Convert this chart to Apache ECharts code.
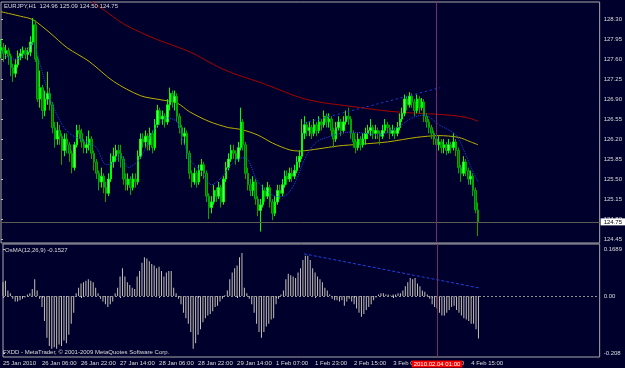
<!DOCTYPE html>
<html><head><meta charset="utf-8">
<script src="https://cdn.jsdelivr.net/npm/echarts@6/dist/echarts.min.js"></script>
<style>html,body{margin:0;padding:0;background:#00002c}#c{width:625px;height:368px}</style>
</head><body><div id="c"></div><script>
// ---- data ----
const symbolTitle = 'EURJPY,H1  124.96 125.09 124.50 124.75';
const oscTitle = 'OsMA(12,26,9) -0.1527';
const copyright = 'FXDD - MetaTrader, \u00a9 2001-2009 MetaQuotes Software Corp.';
const timeLabels = ['25 Jan 2010','26 Jan 06:00','26 Jan 22:00','27 Jan 14:00','28 Jan 06:00','28 Jan 22:00','29 Jan 14:00','1 Feb 07:00','1 Feb 23:00','2 Feb 15:00','3 Feb 07:00','3 Feb 23:00','4 Feb 15:00'];
const barsPerLabel = 16;
const cursorBar = 178;
const cursorLabel = '2010.02.04 01:00';
const bidPrice = 124.75;
const priceTicks = [128.30,127.95,127.60,127.25,126.90,126.55,126.20,125.85,125.50,125.15,124.80,124.45];
const oscTicks = [0.1689, 0, -0.208];
// [open, close, low, high] per H1 bar
const ohlc = [
[127.75,127.80,127.62,127.95],[127.80,127.70,127.55,127.88],[127.70,127.75,127.60,127.85],[127.75,127.65,127.50,127.80],
[127.65,127.45,127.30,127.70],[127.45,127.35,127.20,127.52],[127.35,127.50,127.28,127.60],[127.50,127.65,127.45,127.75],
[127.65,127.70,127.58,127.78],[127.70,127.75,127.62,127.82],[127.75,127.68,127.60,127.80],[127.68,127.72,127.58,127.80],
[127.72,127.90,127.65,128.00],[127.90,128.20,127.85,128.32],[128.20,127.60,127.55,128.28],[127.60,126.90,126.85,127.65],
[126.90,127.10,126.75,127.40],[127.10,126.70,126.55,127.15],[126.70,126.90,126.60,127.05],[126.90,127.00,126.80,127.38],
[127.00,126.80,126.70,127.10],[126.80,126.40,126.30,126.85],[126.40,126.20,126.05,126.50],[126.20,126.35,126.10,126.50],
[126.35,126.25,126.10,126.45],[126.25,126.00,125.75,126.30],[126.00,126.20,125.90,126.30],[126.20,126.10,125.95,126.30],
[126.10,125.95,125.80,126.15],[125.95,125.70,125.60,126.00],[125.70,126.10,125.65,126.15],[126.10,126.35,126.05,126.45],
[126.35,126.30,126.20,126.45],[126.30,126.15,126.05,126.38],[126.15,126.05,125.95,126.20],[126.05,126.10,125.95,126.25],
[126.10,126.20,126.00,126.35],[126.20,125.95,125.85,126.25],[125.95,125.80,125.65,126.00],[125.80,125.60,125.50,125.85],
[125.60,125.45,125.30,125.65],[125.45,125.55,125.35,125.70],[125.55,125.35,125.25,125.60],[125.35,125.25,125.10,125.45],
[125.25,125.50,125.20,125.60],[125.50,125.80,125.45,125.95],[125.80,125.90,125.70,126.05],[125.90,126.00,125.80,126.10],
[126.00,125.95,125.80,126.10],[125.95,125.85,125.70,126.10],[125.85,125.50,125.40,125.90],[125.50,125.40,125.30,125.60],
[125.40,125.50,125.30,125.60],[125.50,125.35,125.22,125.55],[125.35,125.50,125.30,125.60],[125.50,125.45,125.35,125.60],
[125.45,125.90,125.40,126.00],[125.90,126.20,125.85,126.30],[126.20,126.15,126.05,126.30],[126.15,126.25,126.05,126.35],
[126.25,126.10,126.00,126.30],[126.10,126.30,126.00,126.40],[126.30,126.05,125.95,126.35],[126.05,126.45,126.00,126.55],
[126.45,126.70,126.40,126.80],[126.70,126.55,126.45,126.75],[126.55,126.60,126.45,126.70],[126.60,126.50,126.40,126.65],
[126.50,126.80,126.45,126.90],[126.80,127.00,126.70,127.10],[127.00,126.85,126.75,127.05],[126.85,126.95,126.70,127.05],
[126.95,126.60,126.50,127.00],[126.60,126.40,126.30,126.65],[126.40,126.25,126.10,126.45],[126.25,126.30,126.10,126.40],
[126.30,125.95,125.85,126.35],[125.95,125.60,125.50,126.00],[125.60,125.45,125.35,125.65],[125.45,125.60,125.40,125.70],
[125.60,125.45,125.35,125.65],[125.45,125.65,125.40,125.75],[125.65,125.75,125.55,125.85],[125.75,125.60,125.50,125.80],
[125.60,125.20,125.10,125.65],[125.20,125.00,124.80,125.25],[125.00,125.10,124.90,125.20],[125.10,125.30,125.05,125.40],
[125.30,125.20,125.10,125.35],[125.20,125.35,125.15,125.45],[125.35,125.10,125.00,125.40],[125.10,125.50,125.05,125.55],
[125.50,125.70,125.45,125.80],[125.70,125.85,125.65,125.95],[125.85,126.00,125.80,126.10],[126.00,125.95,125.85,126.10],
[125.95,125.85,125.75,126.00],[125.85,126.05,125.80,126.15],[126.05,126.50,126.00,126.75],[126.50,126.10,126.00,126.55],
[126.10,125.60,125.50,126.15],[125.60,125.40,125.30,125.70],[125.40,125.30,125.20,125.50],[125.30,125.45,125.20,125.55],
[125.45,125.15,125.05,125.50],[125.15,124.95,124.85,125.20],[124.95,125.05,124.58,125.15],[125.05,125.30,125.00,125.40],
[125.30,125.20,125.10,125.35],[125.20,125.35,125.15,125.45],[125.35,125.10,125.00,125.40],[125.10,124.90,124.78,125.15],
[124.90,125.10,124.85,125.20],[125.10,125.30,125.05,125.40],[125.30,125.25,125.15,125.40],[125.25,125.40,125.20,125.50],
[125.40,125.55,125.35,125.65],[125.55,125.50,125.40,125.65],[125.50,125.60,125.45,125.70],[125.60,125.55,125.45,125.70],
[125.55,125.65,125.50,125.75],[125.65,125.80,125.60,125.90],[125.80,125.90,125.70,126.00],[125.90,126.30,125.85,126.55],
[126.30,126.45,126.20,126.60],[126.45,126.35,126.25,126.50],[126.35,126.40,126.25,126.50],[126.40,126.30,126.20,126.45],
[126.30,126.45,126.25,126.55],[126.45,126.35,126.25,126.50],[126.35,126.50,126.30,126.60],[126.50,126.45,126.35,126.55],
[126.45,126.60,126.40,126.70],[126.60,126.50,126.40,126.65],[126.50,126.55,126.40,126.65],[126.55,126.35,126.25,126.60],
[126.35,126.20,126.05,126.40],[126.20,126.40,126.15,126.50],[126.40,126.50,126.35,126.60],[126.50,126.35,126.25,126.55],
[126.35,126.50,126.30,126.60],[126.50,126.60,126.45,126.70],[126.60,126.55,126.45,126.75],[126.55,126.30,126.20,126.60],
[126.30,126.15,126.05,126.35],[126.15,126.05,125.95,126.20],[126.05,126.20,126.00,126.30],[126.20,126.10,126.00,126.25],
[126.10,126.20,126.05,126.30],[126.20,126.30,126.10,126.40],[126.30,126.35,126.20,126.45],[126.35,126.40,126.25,126.55],
[126.40,126.30,126.20,126.45],[126.30,126.35,126.20,126.45],[126.35,126.30,126.20,126.40],[126.30,126.25,126.10,126.35],
[126.25,126.35,126.20,126.45],[126.35,126.45,126.30,126.55],[126.45,126.40,126.30,126.50],[126.40,126.30,126.20,126.45],
[126.30,126.35,126.25,126.45],[126.35,126.30,126.20,126.40],[126.30,126.40,126.25,126.50],[126.40,126.55,126.35,126.65],
[126.55,126.65,126.50,126.75],[126.65,126.90,126.60,126.98],[126.90,126.80,126.70,126.95],[126.80,126.95,126.75,127.02],
[126.95,126.85,126.75,127.00],[126.85,126.70,126.60,126.90],[126.70,126.90,126.65,126.98],[126.90,126.75,126.65,126.95],
[126.75,126.85,126.70,126.92],[126.85,126.60,126.50,126.90],[126.60,126.50,126.40,126.65],[126.50,126.40,126.30,126.55],
[126.40,126.30,126.20,126.45],[126.30,126.20,126.10,126.35],[126.20,126.10,126.00,126.25],[126.10,126.15,126.00,126.25],
[126.15,126.05,125.95,126.20],[126.05,126.10,125.95,126.20],[126.10,126.00,125.92,126.15],[126.00,126.10,125.95,126.20],
[126.10,126.05,125.95,126.15],[126.05,126.15,126.00,126.30],[126.15,126.00,125.90,126.20],[126.00,125.70,125.60,126.05],
[125.70,125.60,125.45,125.75],[125.60,125.80,125.55,125.90],[125.80,125.65,125.55,125.85],[125.65,125.50,125.40,125.70],
[125.50,125.55,125.40,125.65],[125.55,125.30,125.20,125.60],[125.30,124.96,124.90,125.35],[124.96,124.75,124.50,125.09]
];
const osma = [
0.05,0.055,0.02,0.01,-0.01,-0.02,-0.02,-0.015,-0.01,-0.005,0.005,0.01,0.025,0.06,0.02,-0.01,
-0.04,-0.09,-0.15,-0.18,-0.19,-0.185,-0.19,-0.175,-0.18,-0.16,-0.17,-0.14,-0.10,-0.06,0.01,0.03,
0.045,0.05,0.055,0.06,0.055,0.05,0.03,0.01,-0.01,-0.02,-0.03,-0.04,-0.03,-0.02,0.01,0.03,
0.07,0.10,0.07,0.05,0.04,0.03,0.025,0.07,0.09,0.12,0.14,0.135,0.125,0.115,0.11,0.10,
0.105,0.09,0.07,0.085,0.09,0.09,0.03,0.01,-0.01,-0.03,-0.06,-0.08,-0.10,-0.13,-0.19,-0.17,
-0.14,-0.12,-0.095,-0.08,-0.07,-0.065,-0.055,-0.04,-0.035,-0.02,-0.01,0.003,0.02,0.06,0.085,0.10,
0.11,0.14,0.155,0.03,0.01,-0.01,-0.03,-0.06,-0.10,-0.13,-0.15,-0.13,-0.11,-0.10,-0.085,-0.08,
-0.03,-0.01,0.005,0.02,0.06,0.08,0.075,0.07,0.065,0.085,0.10,0.13,0.145,0.145,0.13,0.10,
0.085,0.07,0.06,0.05,0.03,0.02,0.005,-0.01,-0.015,-0.015,-0.02,-0.015,-0.035,-0.02,-0.01,-0.02,
-0.03,-0.045,-0.06,-0.075,-0.065,-0.05,-0.04,-0.03,-0.015,-0.005,0.005,0.01,0.01,0.005,0.005,0.002,
0.005,0.005,0.01,0.01,0.02,0.035,0.05,0.065,0.06,0.065,0.045,0.035,0.02,0.015,0.005,-0.01,
-0.03,-0.04,-0.045,-0.06,-0.07,-0.07,-0.06,-0.05,-0.04,-0.035,-0.05,-0.06,-0.07,-0.08,-0.085,-0.09,
-0.10,-0.10,-0.12,-0.1527
];
// moving averages: [bar, price]
const maYellow = [[0,128.43],[8,128.35],[13,128.29],[20,128.06],[27,127.80],[36,127.56],[46,127.21],[57,126.96],[65,126.89],[72,126.83],[77,126.68],[85,126.51],[93,126.40],[98,126.37],[105,126.27],[111,126.13],[118,126.01],[122,125.99],[130,126.03],[138,126.08],[147,126.11],[158,126.15],[170,126.23],[179,126.26],[187,126.23],[192,126.15],[195,126.10]];
const maRed = [[30,128.80],[37,128.61],[44,128.40],[50,128.22],[57,128.07],[64,127.94],[71,127.83],[78,127.71],[85,127.55],[92,127.40],[99,127.29],[106,127.19],[114,127.06],[122,126.93],[130,126.85],[138,126.80],[147,126.75],[158,126.69],[171,126.65],[183,126.62],[191,126.57],[195,126.51]];
const maBlue = [[0,127.76],[4,127.60],[8,127.62],[13,127.88],[16,127.50],[20,126.92],[25,126.45],[29,126.27],[35,126.15],[39,126.05],[43,125.75],[46,125.78],[49,125.92],[52,125.70],[57,125.87],[62,126.32],[68,126.57],[72,126.50],[74,126.22],[78,125.80],[82,125.63],[86,125.40],[90,125.52],[94,125.75],[98,125.87],[100,125.87],[105,125.45],[111,125.22],[115,125.19],[119,125.34],[125,125.92],[129,126.15],[134,126.24],[142,126.32],[147,126.31],[154,126.27],[162,126.40],[168,126.57],[173,126.62],[179,126.45],[186,126.27],[190,125.92],[193,125.62],[195,125.45]];
const trendMain = [[123.8,126.48],[179.5,127.10]];
const trendOsc = [[123.4,0.152],[195.9,0.028]];

// ---- layout / style ----
const FONT = 'Liberation Sans';
const FS = 6;
const TXT = '#dcdcdc';
const BG = '#00002c';
const xMax = 244.7;
const labelTicks = timeLabels.map((t, k) => k * barsPerLabel);

const chart = echarts.init(document.getElementById('c'), null, {renderer: 'canvas'});
const candleData = ohlc.map((r, i) => [i, r[0], r[1], r[2], r[3]]);
const oscData = osma.map((v, i) => [i, v]);

const option = {
  backgroundColor: BG,
  animation: false,
  textStyle: {fontFamily: FONT},
  grid: [
    {left: 1, right: 23, top: 2, height: 241, show: true, borderColor: '#a8a8a8', borderWidth: 1, backgroundColor: 'transparent'},
    {left: 1, right: 23, top: 244, height: 113, show: true, borderColor: '#a8a8a8', borderWidth: 1, backgroundColor: 'transparent'}
  ],
  xAxis: [
    {type: 'value', gridIndex: 0, min: 0, max: xMax, show: false},
    {type: 'value', gridIndex: 1, min: 0, max: xMax, axisLine: {show: false}, splitLine: {show: false},
      axisTick: {show: true, inside: false, length: 2, customValues: labelTicks, lineStyle: {color: '#c0c0c0'}},
      axisLabel: {show: true, customValues: labelTicks, align: 'left', margin: 3, color: TXT, fontSize: FS, fontFamily: FONT,
        formatter: v => timeLabels[Math.round(v / barsPerLabel)] || ''}}
  ],
  yAxis: [
    {type: 'value', gridIndex: 0, position: 'right', min: 124.38, max: 128.60, scale: true,
      axisLine: {show: false}, splitLine: {show: false},
      axisTick: {show: true, length: 2, customValues: priceTicks, lineStyle: {color: '#c0c0c0'}},
      axisLabel: {customValues: priceTicks, color: TXT, fontSize: FS, fontFamily: FONT, margin: 4, formatter: v => v.toFixed(2)}},
    {type: 'value', gridIndex: 1, position: 'right', min: -0.2198, max: 0.1874,
      axisLine: {show: false}, splitLine: {show: false},
      axisTick: {show: true, length: 2, customValues: oscTicks, lineStyle: {color: '#c0c0c0'}},
      axisLabel: {customValues: oscTicks, color: TXT, fontSize: FS, fontFamily: FONT, margin: 4,
        formatter: v => (v === 0 ? '0.00' : String(v))}}
  ],
  series: [
    {type: 'line', xAxisIndex: 0, yAxisIndex: 0, data: maRed, showSymbol: false, smooth: 0.4, z: 1,
      lineStyle: {color: '#a80000', width: 1}},
    {type: 'line', xAxisIndex: 0, yAxisIndex: 0, data: maYellow, showSymbol: false, smooth: 0.3, z: 1,
      lineStyle: {color: '#bcb000', width: 1}},
    {type: 'candlestick', xAxisIndex: 0, yAxisIndex: 0, data: candleData, barWidth: 2, z: 2,
      itemStyle: {color: '#70ff70', color0: '#0a6a0a', borderColor: '#00ff00', borderColor0: '#00a800', borderWidth: 1},
      markLine: {silent: true, symbol: 'none', animation: false,
        data: [
          {yAxis: bidPrice, lineStyle: {color: '#5c5c54', type: 'solid', width: 1},
            label: {show: true, position: 'end', distance: 1, formatter: bidPrice.toFixed(2), color: '#000', backgroundColor: '#ffffff',
              padding: [1, 3, 0, 3], fontSize: FS, fontFamily: FONT}},
          {xAxis: cursorBar, lineStyle: {color: '#7a2a68', type: 'solid', width: 1}, label: {show: false}}
        ]}},
    {type: 'line', xAxisIndex: 0, yAxisIndex: 0, data: maBlue, showSymbol: false, smooth: 0.3, z: 3,
      lineStyle: {color: '#2040e8', width: 1, type: 'dotted'}},
    {type: 'line', xAxisIndex: 0, yAxisIndex: 0, data: trendMain, showSymbol: false, z: 3,
      lineStyle: {color: '#2040e0', width: 1, type: [2, 3]}},
    {type: 'bar', xAxisIndex: 1, yAxisIndex: 1, data: oscData, barWidth: 1, z: 2,
      itemStyle: {color: '#c4c0b4'},
      markLine: {silent: true, symbol: 'none', animation: false,
        data: [
          {yAxis: 0, lineStyle: {color: '#909090', type: [2, 2], width: 1}, label: {show: false}},
          {xAxis: cursorBar, lineStyle: {color: '#7a2a68', type: 'solid', width: 1}, label: {show: false}}
        ]}},
    {type: 'line', xAxisIndex: 1, yAxisIndex: 1, data: trendOsc, showSymbol: false, z: 3,
      lineStyle: {color: '#2040e0', width: 1, type: [3, 2]}}
  ],
  graphic: [
    {type: 'text', left: 4, top: 3, z: 100, style: {text: symbolTitle, fill: TXT, font: FS + 'px "' + FONT + '"'}},
    {type: 'text', left: 5, top: 247, z: 100, style: {text: oscTitle, fill: TXT, font: FS + 'px "' + FONT + '"'}},
    {type: 'text', left: 3, top: 349, z: 100, style: {text: copyright, fill: TXT, font: FS + 'px "' + FONT + '"'}}
  ]
};
chart.setOption(option);

// red time label of the vertical cursor line, placed from the axis scale
const cx = chart.convertToPixel({xAxisIndex: 1}, cursorBar);
chart.setOption({graphic: option.graphic.concat([
  {type: 'text', x: cx, y: 364, z: 200, style: {text: cursorLabel, fill: '#ffffff', backgroundColor: '#ff0000',
    align: 'center', verticalAlign: 'middle', padding: [1, 2, 0, 2], font: FS + 'px "' + FONT + '"'}}
])});
</script></body></html>
